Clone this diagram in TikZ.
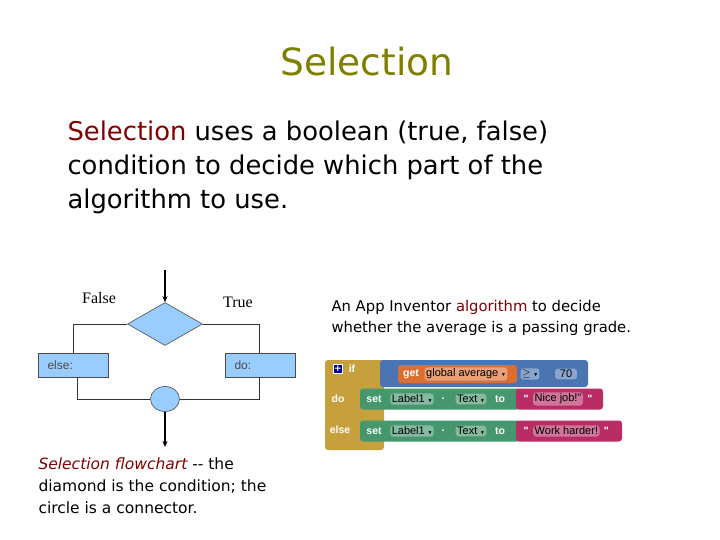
\documentclass[tikz,border=0pt]{standalone}
\usepackage{amssymb}
\usepackage{fontspec}
\setmainfont{DejaVu Sans}
\newfontfamily\tms{Liberation Serif}
\newfontfamily\arl{Liberation Sans}
\usetikzlibrary{shapes.geometric,arrows.meta}
\definecolor{olive}{RGB}{128,128,0}
\definecolor{darkred}{RGB}{128,0,0}
\definecolor{fcblue}{RGB}{153,204,255}
\definecolor{aigold}{RGB}{197,160,60}
\definecolor{aiblue}{RGB}{74,117,178}
\definecolor{aiorange}{RGB}{220,110,50}
\definecolor{aigreen}{RGB}{70,150,110}
\definecolor{aipink}{RGB}{185,45,100}
\begin{document}
\begin{tikzpicture}[x=1pt,y=-1pt,
  fc/.style={draw=black!70,fill=fcblue,line width=0.6pt},
  ln/.style={draw=black!80,line width=0.6pt},
  arr/.style={draw=black,line width=1.3pt,-{Stealth[length=6pt,width=5pt]}},
  blk/.style={rounded corners=3pt,inner sep=0pt},
  pill/.style={fill=white,fill opacity=0.35,text opacity=1,rounded corners=3pt,inner sep=1.5pt,font=\arl\fontsize{11}{12}\selectfont},
  wt/.style={text=white,font=\arl\bfseries\fontsize{10.5}{11}\selectfont,inner sep=0pt}]
\useasboundingbox (0,0) rectangle (720,540);
% title and text
\node[text=olive,font=\fontsize{37.5}{40}\selectfont] (title) at (367,62) {Selection};
\node[anchor=west,align=left,font=\fontsize{25.8}{34}\selectfont] (body) at (64,167)
 {\textcolor{darkred}{Selection} uses a boolean (true, false)\\condition to decide which part of the\\algorithm to use.};
% flowchart
\coordinate (top) at (165,270);
\node[diamond,fc,minimum width=75pt,minimum height=43pt,aspect=1.75,inner sep=0pt] (dia) at (165,324) {};
\node[fc,minimum width=70pt,minimum height=24pt,inner sep=0pt,anchor=west] (else) at (38,365) {};
\node[anchor=west,font=\arl\fontsize{12}{13}\selectfont,text=black!70] (elset) at (44,365) {else:};
\node[fc,minimum width=70pt,minimum height=24pt,inner sep=0pt,anchor=west] (do) at (225,365) {};
\node[anchor=west,font=\arl\fontsize{12}{13}\selectfont,text=black!70] (dot) at (231,365) {do:};
\node[ellipse,fc,minimum width=29pt,minimum height=25pt,inner sep=0pt] (circ) at (165,399) {};
\coordinate (bot) at (165,447);
\draw[arr] (top) -- (dia.north);
\draw[ln] (dia.west) -- (73,324) -- (73,353);
\draw[ln] (dia.east) -- (259,324) -- (259,353);
\draw[ln] (77,377) -- (77,399) -- (circ.west);
\draw[ln] (259,377) -- (259,399) -- (circ.east);
\draw[arr] (circ.south) -- (bot);
\node[font=\tms\fontsize{16}{18}\selectfont] (false) at (99,298) {False};
\node[font=\tms\fontsize{16}{18}\selectfont] (true) at (238,302) {True};
\node[anchor=north west,align=left,font=\fontsize{15.5}{22}\selectfont] (cap) at (35,454)
 {\textcolor{darkred}{\itshape Selection flowchart} {-}{-} the\\diamond is the condition; the\\circle is a connector.};
\node[anchor=west,align=left,font=\fontsize{14.8}{21}\selectfont] (cap2) at (328,318)
 {An App Inventor \textcolor{darkred}{algorithm} to decide\\whether the average is a passing grade.};
% App Inventor blocks
\fill[aigold,blk] (325,360) rectangle (384,450);
\fill[aiblue,blk] (380,360) rectangle (588,387);
\fill[aiorange,blk] (398,365) rectangle (517,383);
\node[pill] (ge) at (530,374) {$\geq$ \tiny$\blacktriangledown$};
\node[pill,minimum width=22pt] (seventy) at (566,374) {70};
\node[wt] (get) at (411,374) {get};
\node[pill] (gav) at (466,374) {global average \tiny$\blacktriangledown$};
\node[fill=blue!60!black,draw=white,line width=0.4pt,minimum size=9pt,inner sep=0pt,text=white,font=\bfseries\small] (plus) at (338,369) {+};
\node[wt] (if) at (352,369) {if};
\node[wt] (dol) at (338,399) {do};
\node[wt] (elsel) at (340,430) {else};
\foreach \y/\txt/\w [count=\i] in {399/Nice job!"/603, 431/Work harder!/622}{
  \fill[aigreen,blk] (360,\y-10.5) rectangle (520,\y+10.5);
  \fill[aipink,blk] (516,\y-10.5) rectangle (\w,\y+10.5);
  \node[wt] (set\i) at (374,\y) {set};
  \node[pill] (lab\i) at (412,\y) {Label1 \tiny$\blacktriangledown$};
  \node[wt] (dot\i) at (443,\y) {.};
  \node[pill] (txt\i) at (471,\y) {Text \tiny$\blacktriangledown$};
  \node[wt] (to\i) at (500,\y) {to};
  \node[pill,anchor=west] (str\i) at (533,\y) {\txt};
  \node[wt] (q\i) at (526,\y) {"};
  \node[wt,anchor=west] (qe\i) at ([xshift=4pt]str\i.east) {"};
}
\end{tikzpicture}
\end{document}
